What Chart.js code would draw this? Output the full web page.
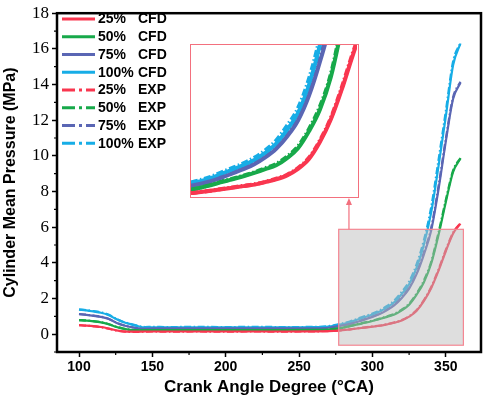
<!DOCTYPE html>
<html><head><meta charset="utf-8">
<script src="https://cdn.jsdelivr.net/npm/chart.js@4.4.0/dist/chart.umd.min.js"></script>
<style>
html,body{margin:0;padding:0;background:#fff;}
#wrap{position:relative;width:484px;height:398px;}
#main{position:absolute;left:0;top:0;}
#insetBox{position:absolute;left:190px;top:44px;width:169px;height:154px;box-sizing:border-box;border:1.5px solid #f3707e;background:#fff;}
#inset{position:absolute;left:0;top:0;}
</style></head><body>
<div id="wrap"><canvas id="main" width="484" height="398"></canvas>
<div id="insetBox"><canvas id="inset" width="166" height="151"></canvas></div></div>
<script>
// ---- data ----
const angles = [100,105,110,115,120,125,130,135,140,145,150,160,180,200,220,240,260,270,277,285,290,295,300,305,310,315,320,325,330,335,340,345,350,355,360];
const cfd25  = [0.50,0.48,0.45,0.40,0.32,0.22,0.16,0.14,0.14,0.15,0.15,0.15,0.15,0.15,0.15,0.15,0.16,0.17,0.20,0.27,0.32,0.37,0.42,0.47,0.55,0.64,0.77,0.98,1.30,1.85,2.58,3.55,4.65,5.65,6.20];
const cfd50  = [0.78,0.76,0.72,0.66,0.56,0.42,0.31,0.24,0.22,0.23,0.23,0.23,0.23,0.23,0.23,0.23,0.24,0.26,0.32,0.45,0.55,0.64,0.74,0.85,0.97,1.10,1.33,1.65,2.20,2.90,3.95,5.55,7.40,9.10,9.85];
const cfd75  = [1.12,1.08,1.03,0.97,0.86,0.66,0.50,0.40,0.33,0.31,0.32,0.32,0.32,0.32,0.32,0.32,0.33,0.36,0.45,0.58,0.70,0.83,0.97,1.13,1.35,1.63,2.03,2.55,3.35,4.45,5.80,8.10,10.80,13.20,14.10];
const cfd100 = [1.37,1.33,1.27,1.20,1.08,0.86,0.68,0.56,0.45,0.38,0.38,0.38,0.38,0.38,0.38,0.38,0.39,0.42,0.52,0.68,0.82,0.96,1.10,1.27,1.50,1.80,2.25,2.80,3.70,5.00,6.80,9.40,12.20,15.10,16.30];
const exp25  = [0.51,0.48,0.44,0.39,0.31,0.21,0.15,0.13,0.13,0.14,0.15,0.14,0.15,0.14,0.15,0.14,0.16,0.17,0.21,0.27,0.33,0.38,0.43,0.48,0.56,0.66,0.79,1.01,1.34,1.90,2.63,3.62,4.72,5.70,6.22];
const exp50  = [0.79,0.77,0.73,0.67,0.57,0.43,0.32,0.25,0.23,0.24,0.23,0.24,0.23,0.24,0.23,0.24,0.25,0.27,0.33,0.46,0.57,0.66,0.76,0.87,1.00,1.14,1.38,1.71,2.27,3.00,4.05,5.68,7.52,9.18,9.88];
const exp75  = [1.13,1.09,1.04,0.98,0.87,0.67,0.51,0.41,0.34,0.32,0.33,0.32,0.33,0.32,0.33,0.32,0.34,0.37,0.46,0.60,0.72,0.85,1.00,1.16,1.39,1.68,2.09,2.63,3.45,4.58,5.95,8.28,10.95,13.30,14.15];
const exp100 = [1.39,1.35,1.29,1.22,1.10,0.88,0.70,0.58,0.47,0.40,0.41,0.40,0.41,0.40,0.41,0.40,0.41,0.45,0.56,0.72,0.87,1.01,1.16,1.34,1.58,1.90,2.38,2.95,3.90,5.25,7.10,9.75,12.50,15.30,16.35];
const loads = ['25%','50%','75%','100%'];
const kinds = ['CFD','EXP'];
const xTicks = [100,150,200,250,300,350];
const xMinor = [125,175,225,275,325];
const yTicks = [0,2,4,6,8,10,12,14,16,18];
const yMinor = [-1,1,3,5,7,9,11,13,15,17];
const xTitle = 'Crank Angle Degree (°CA)';
const yTitle = 'Cylinder Mean Pressure (MPa)';
const zoomX = [277,362];   // highlighted region (data units)
const zoomY = [-0.62,5.88];
const arrowX = 284;
const insetX = [276,352];
const insetY = [0.1,5.0];

// ---- styles ----
const colors = ['#f9364f','#17a94a','#5a66b4','#17ade6'];
const cfdSets = [cfd25,cfd50,cfd75,cfd100];
const expSets = [exp25,exp50,exp75,exp100];
const expDash = [7,2.5,1.5,2.5];

function makeDatasets(width){
  const ds = [];
  for(let i=0;i<4;i++){
    ds.push({label:loads[i]+' '+kinds[0], data:angles.map((a,j)=>({x:a,y:cfdSets[i][j]})),
      borderColor:colors[i], borderWidth:width, pointRadius:0, cubicInterpolationMode:'monotone', fill:false});
  }
  for(let i=0;i<4;i++){
    ds.push({label:loads[i]+' '+kinds[1], data:angles.map((a,j)=>({x:a,y:expSets[i][j]})),
      borderColor:colors[i], borderWidth:width, borderDash:expDash, pointRadius:0, cubicInterpolationMode:'monotone', fill:false});
  }
  return ds;
}

const decor = {
  id:'decor',
  afterDatasetsDraw(chart){
    const {ctx, scales:{x,y}} = chart;
    const gx0=x.getPixelForValue(zoomX[0]), gx1=x.getPixelForValue(zoomX[1]);
    const gy0=y.getPixelForValue(zoomY[0]), gy1=y.getPixelForValue(zoomY[1]);
    ctx.save();
    ctx.fillStyle='rgba(185,185,185,0.48)';
    ctx.fillRect(gx0,gy1,gx1-gx0,gy0-gy1);
    ctx.strokeStyle='#f58793'; ctx.lineWidth=1.2;
    ctx.strokeRect(gx0,gy1,gx1-gx0,gy0-gy1);
    // arrow up to inset
    const ax = x.getPixelForValue(arrowX);
    ctx.strokeStyle='#f2707e'; ctx.fillStyle='#f2707e'; ctx.lineWidth=1.2;
    ctx.beginPath(); ctx.moveTo(ax,gy1); ctx.lineTo(ax,203); ctx.stroke();
    ctx.beginPath(); ctx.moveTo(ax,198); ctx.lineTo(ax-3,205); ctx.lineTo(ax+3,205); ctx.closePath(); ctx.fill();
    ctx.restore();
  },
  afterDraw(chart){
    const {ctx, chartArea:a, scales:{x,y}} = chart;
    ctx.save();
    // frame
    ctx.strokeStyle='#000'; ctx.lineWidth=2.5;
    ctx.strokeRect(a.left,a.top,a.right-a.left,a.bottom-a.top);
    // minor ticks
    ctx.lineWidth=1.2;
    ctx.beginPath();
    xMinor.forEach(v=>{const px=x.getPixelForValue(v); ctx.moveTo(px,a.bottom); ctx.lineTo(px,a.bottom+3);});
    yMinor.forEach(v=>{const py=y.getPixelForValue(v); ctx.moveTo(a.left,py); ctx.lineTo(a.left-3,py);});
    ctx.stroke();
    // legend
    ctx.font='bold 14px "Liberation Sans", Arial, sans-serif';
    ctx.textBaseline='middle'; ctx.fillStyle='#000';
    for(let k=0;k<2;k++){
      for(let i=0;i<4;i++){
        const row=k*4+i, ly=19+row*17.75;
        ctx.strokeStyle=colors[i]; ctx.lineWidth=3;
        ctx.setLineDash(k===0?[]:[13,4,3,4]);
        ctx.beginPath(); ctx.moveTo(62,ly); ctx.lineTo(95,ly); ctx.stroke();
        ctx.setLineDash([]);
        ctx.fillText(loads[i],98,ly+0.5);
        ctx.fillText(kinds[k],138,ly+0.5);
      }
    }
    ctx.restore();
  }
};

new Chart(document.getElementById('main'),{
  type:'line',
  data:{datasets:makeDatasets(2.2)},
  options:{
    responsive:false, animation:false,
    layout:{padding:{top:5,right:3,left:0,bottom:0}},
    plugins:{legend:{display:false}, tooltip:{enabled:false}},
    scales:{
      x:{type:'linear', min:85, max:374,
        afterBuildTicks:s=>{s.ticks=xTicks.map(v=>({value:v}));},
        afterFit:s=>{s.height=46;},
        border:{display:false},
        grid:{display:true, drawOnChartArea:false, drawTicks:true, tickLength:5, tickColor:'#000', tickWidth:1.5},
        ticks:{color:'#000', font:{family:'"Liberation Sans", Arial, sans-serif', weight:'bold', size:14}, padding:2, maxRotation:0, autoSkip:false},
        title:{display:true, text:xTitle, color:'#000', font:{family:'"Liberation Sans", Arial, sans-serif', weight:'bold', size:17}, padding:{top:0,bottom:0}}
      },
      y:{type:'linear', min:-1, max:18,
        afterBuildTicks:s=>{s.ticks=yTicks.map(v=>({value:v}));},
        afterFit:s=>{s.width=57;},
        border:{display:false},
        grid:{display:true, drawOnChartArea:false, drawTicks:true, tickLength:5, tickColor:'#000', tickWidth:1.5},
        ticks:{color:'#000', font:{family:'"Liberation Serif", "Times New Roman", serif', size:17}, padding:3, autoSkip:false},
        title:{display:true, text:yTitle, color:'#000', font:{family:'"Liberation Sans", Arial, sans-serif', weight:'bold', size:16}, padding:{top:1,bottom:0}}
      }
    }
  },
  plugins:[decor]
});

new Chart(document.getElementById('inset'),{
  type:'line',
  data:{datasets:makeDatasets(4)},
  options:{
    responsive:false, animation:false,
    layout:{padding:0},
    plugins:{legend:{display:false}, tooltip:{enabled:false}},
    scales:{
      x:{type:'linear', min:insetX[0], max:insetX[1], display:false},
      y:{type:'linear', min:insetY[0], max:insetY[1], display:false}
    }
  }
});
</script>
</body></html>
